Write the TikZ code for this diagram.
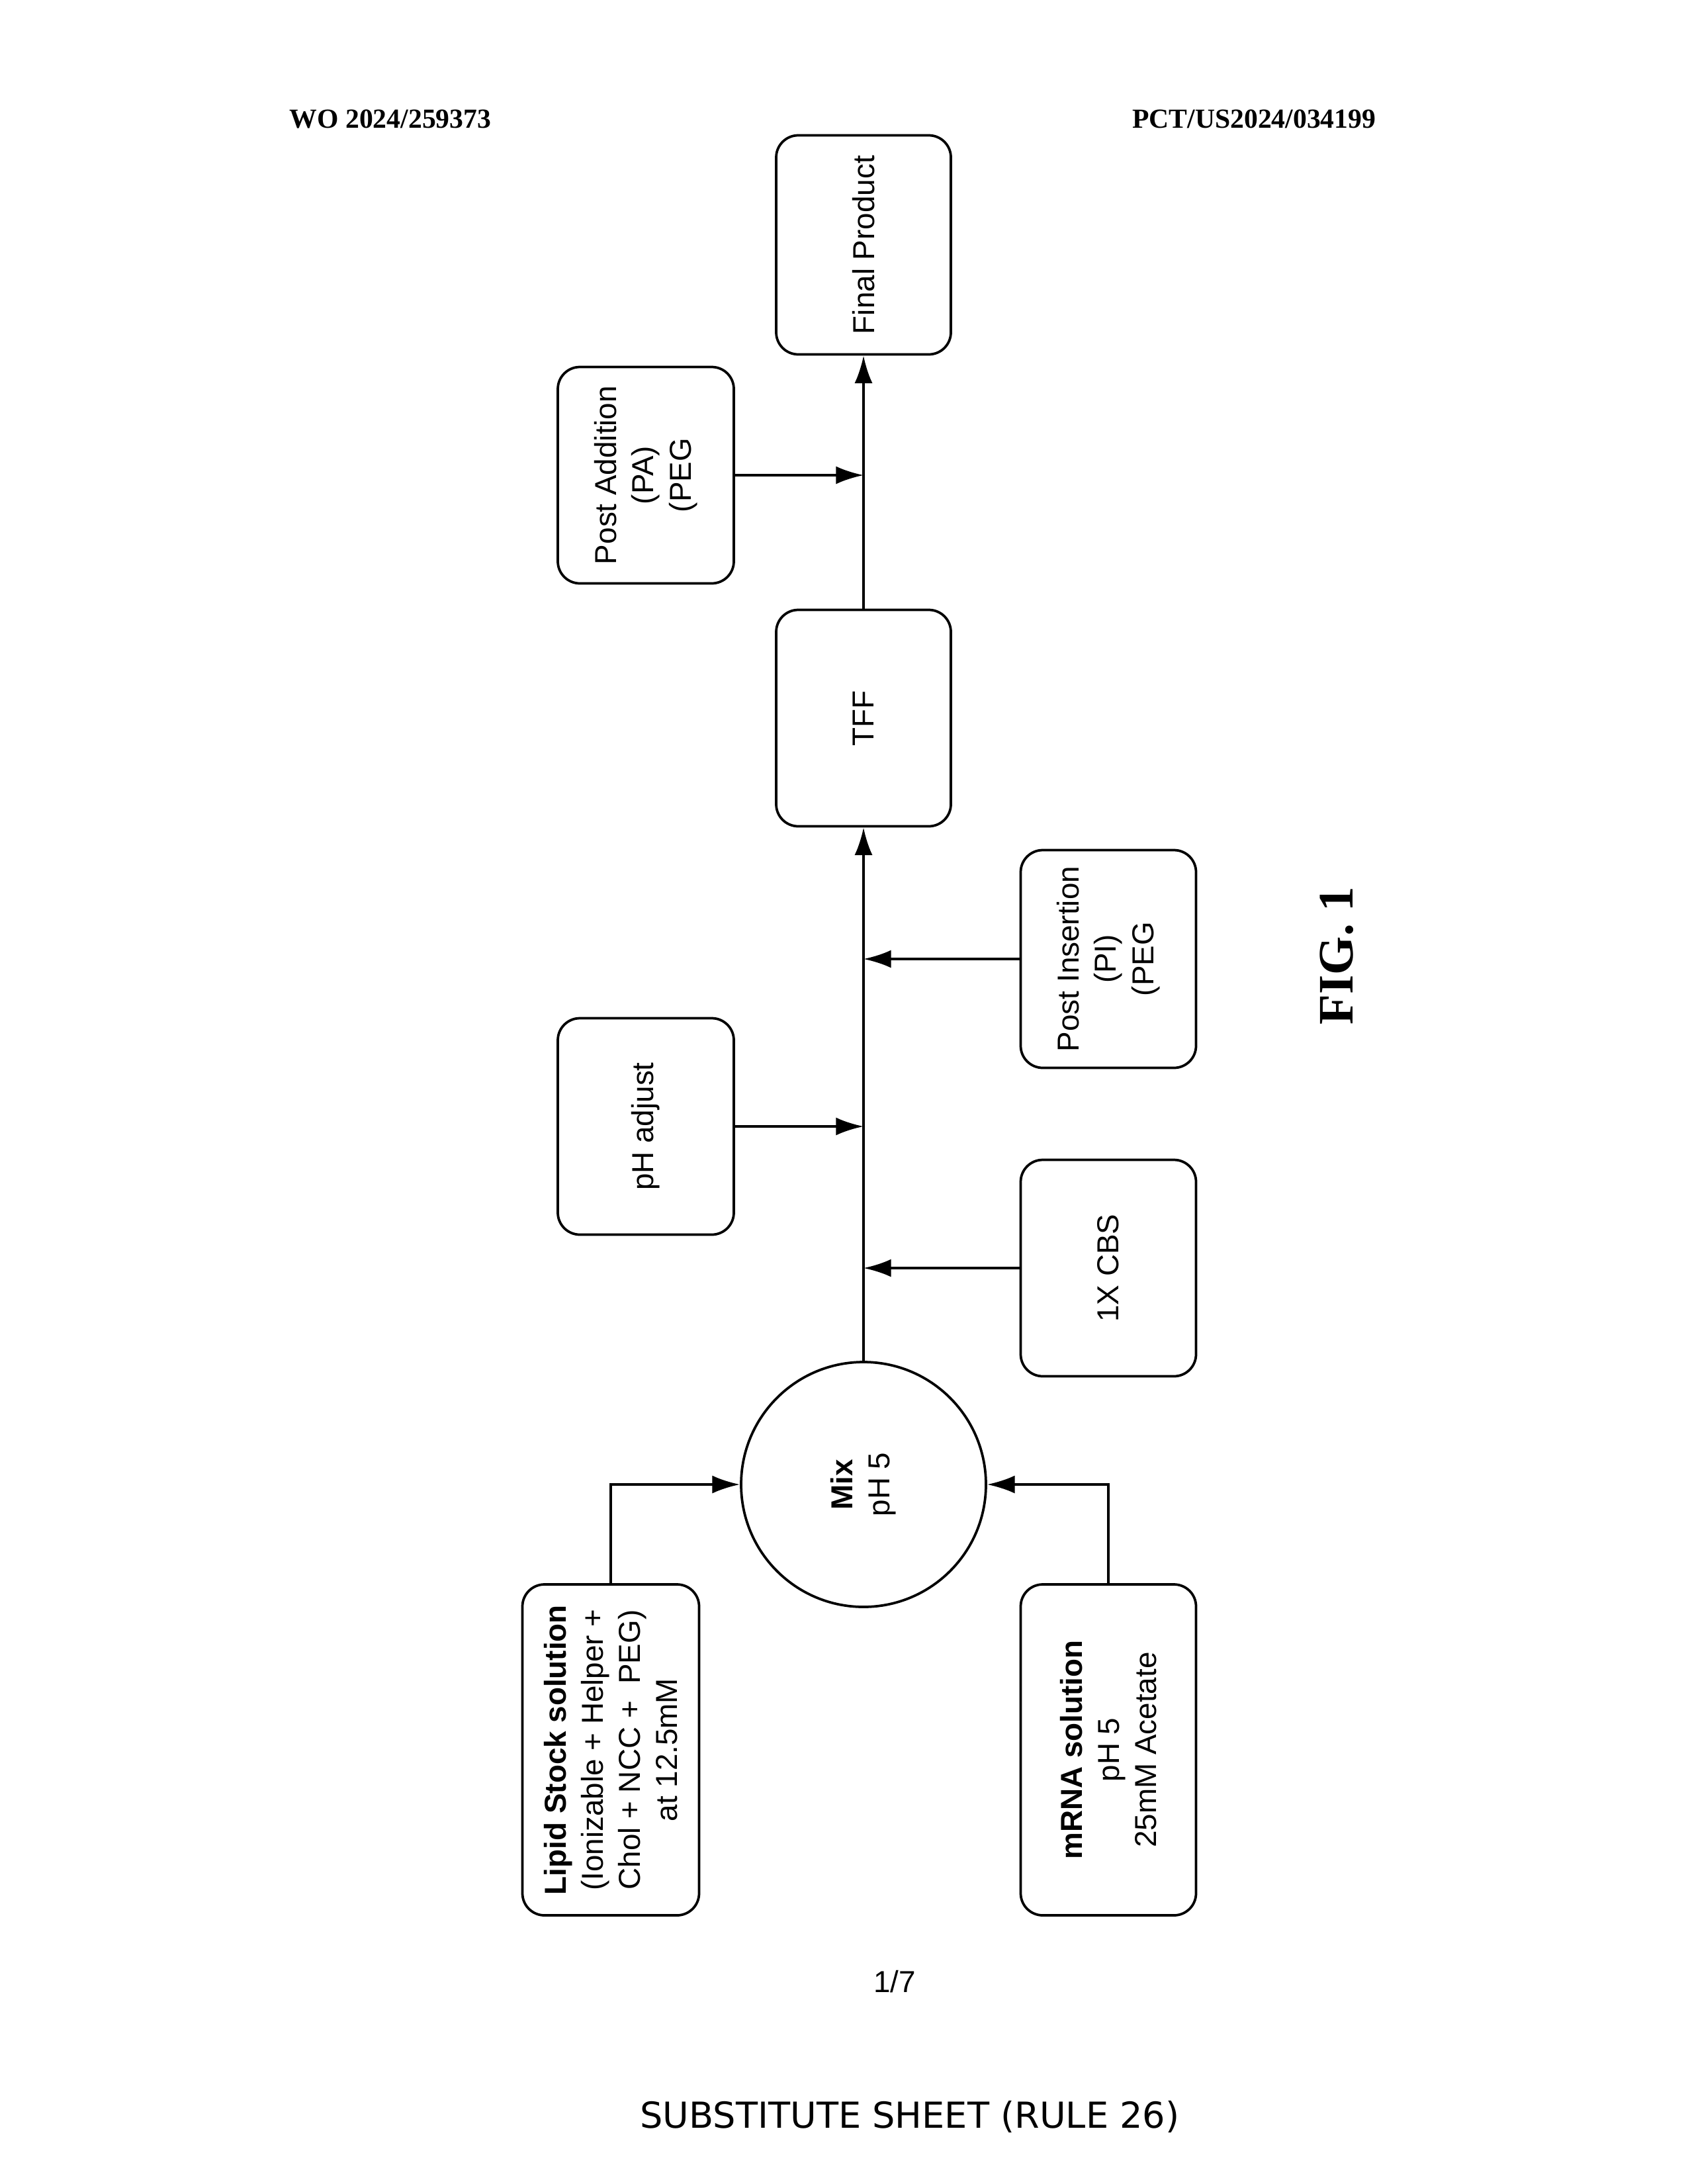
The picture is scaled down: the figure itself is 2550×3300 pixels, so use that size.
\documentclass[tikz,border=0pt]{standalone}
\usepackage{fontspec}
\setmainfont{Liberation Sans}
\newfontfamily\hdr{Liberation Serif}
\newfontfamily\dvs{DejaVu Sans}
\usetikzlibrary{arrows.meta}
\begin{document}
\begin{tikzpicture}[x=0.24pt,y=-0.24pt,
  box/.style={draw,line width=0.9pt,rounded corners=8pt,rotate=90,align=center,inner sep=0pt,font=\fontsize{11}{13.5}\selectfont},
  arr/.style={line width=0.9pt,-{Latex[length=10pt,width=6.5pt]}},
  ln/.style={line width=0.9pt}]
\useasboundingbox (0,0) rectangle (2550,3300);
\node[font=\hdr\bfseries\fontsize{10}{12}\selectfont] (h1) at (590,180) {WO 2024/259373};
\node[font=\hdr\bfseries\fontsize{10}{12}\selectfont,anchor=east] (h2) at (2094,180) {PCT/US2024/034199};
\node[box,minimum width=331*0.24pt,minimum height=264*0.24pt] (final) at (1305,370) {Final Product};
\node[box,minimum width=327*0.24pt,minimum height=266*0.24pt] (pa) at (976,718) {Post Addition\\(PA)\\(PEG};
\node[box,minimum width=327*0.24pt,minimum height=264*0.24pt] (tff) at (1305,1085) {TFF};
\node[box,minimum width=327*0.24pt,minimum height=266*0.24pt] (ph) at (976,1702) {pH adjust};
\node[box,minimum width=329*0.24pt,minimum height=265*0.24pt] (pi) at (1675,1449) {Post Insertion\\(PI)\\(PEG};
\node[box,minimum width=327*0.24pt,minimum height=265*0.24pt] (cbs) at (1675,1916) {1X CBS};
\node[draw,circle,line width=0.9pt,minimum size=370*0.24pt,inner sep=0pt,rotate=90,align=center,font=\fontsize{11}{13.5}\selectfont] (mix) at (1305,2243) {\textbf{Mix}\\pH 5};
\node[box,minimum width=500*0.24pt,minimum height=267*0.24pt] (lipid) at (923,2644) {\textbf{Lipid Stock solution}\\(Ionizable + Helper +\\Chol + NCC +\ \ PEG)\\at 12.5mM};
\node[box,minimum width=500*0.24pt,minimum height=265*0.24pt] (mrna) at (1675,2644) {\textbf{mRNA solution}\\pH 5\\25mM Acetate};
\coordinate (jpa) at (1305,718);
\coordinate (jph) at (1305,1702);
\coordinate (jpi) at (1305,1449);
\coordinate (jcbs) at (1305,1916);
\draw[arr] (mix.east) -- (tff.west);
\draw[arr] (tff.east) -- (final.west);
\draw[arr] (pa.south) -- (jpa);
\draw[arr] (ph.south) -- (jph);
\draw[arr] (pi.north) -- (jpi);
\draw[arr] (cbs.north) -- (jcbs);
\draw[arr] (lipid.east) |- (mix.north);
\draw[arr] (mrna.east) |- (mix.south);
\node[rotate=90,font=\hdr\bfseries\fontsize{18}{20}\selectfont] (fig) at (2020,1444) {FIG. 1};
\node[font=\fontsize{11}{13}\selectfont] (pg) at (1352,2994) {1/7};
\node[font=\dvs\fontsize{13}{15}\selectfont] (ss) at (1375,3198) {SUBSTITUTE SHEET (RULE 26)};
\end{tikzpicture}
\end{document}
